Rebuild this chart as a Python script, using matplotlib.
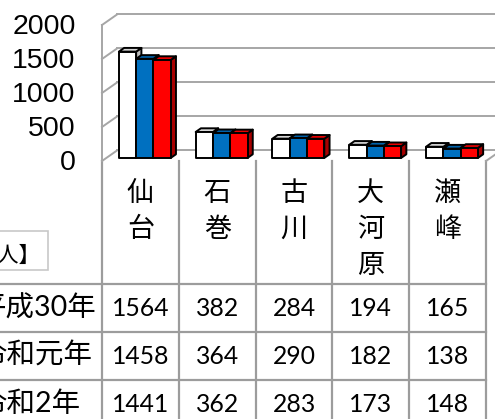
import matplotlib
matplotlib.use('Agg')
import matplotlib.pyplot as plt
from matplotlib.patches import Polygon, Rectangle

# ---------------- data ----------------
categories = ['仙台', '石巻', '古川', '大河原', '瀬峰']
series_names = ['平成30年', '令和元年', '令和2年']
h30 = [1564, 382, 284, 194, 165]
r1 = [1458, 364, 290, 182, 138]
r2 = [1441, 362, 283, 173, 148]
y_ticks = [0, 500, 1000, 1500, 2000]
unit_label = '【単位：人】'

series = [h30, r1, r2]
face_cols = [('#FFFFFF', '#D6D6D6', '#BDBDBD'),
             ('#0070C0', '#0062AA', '#004E8A'),
             ('#FF0000', '#E80000', '#A80000')]

W, H = 495, 419
fig = plt.figure(figsize=(W / 100, H / 100), dpi=100)

# pixel overlay axes for table / labels
pa = fig.add_axes([0, 0, 1, 1])
pa.set_xlim(0, W)
pa.set_ylim(H, 0)
pa.axis('off')

# chart axes (front plane)
x0, x1 = 102, 486
yb, yt = 161, 25
ncat = len(categories)
ymax = 2000
ax = fig.add_axes([x0 / W, (H - yb) / H, (x1 - x0) / W, (yb - yt) / H])
ax.set_xlim(0, ncat)
ax.set_ylim(0, ymax)
ax.axis('off')

catw = (x1 - x0) / ncat
DX = 15 / catw                 # depth offset in category units
DY = 10.5 * ymax / (yb - yt)   # depth offset in value units

grid_c = '#A6A6A6'
# back wall gridlines and side wall diagonals
for v in y_ticks:
    ax.plot([DX, ncat + DX + 1], [v + DY, v + DY], color=grid_c, lw=1.4,
            clip_on=False, zorder=1)
    ax.plot([0, DX], [v, v + DY], color=grid_c, lw=1.4, clip_on=False, zorder=1)
ax.plot([0, 0], [0, ymax], color=grid_c, lw=1.4, clip_on=False, zorder=1)
ax.plot([ncat, ncat + DX], [0, DY], color=grid_c, lw=1.4, clip_on=False, zorder=1)

# bars
f0, f1 = 0.29, 0.64
off = 0.163
bw = 0.225
z = 3
for i in range(ncat):
    for j, s in enumerate(series):
        v = s[i]
        fc, tc, sc = face_cols[j]
        xl = i + off + j * bw + f0 * DX
        yl = f0 * DY
        ddx = (f1 - f0) * DX
        ddy = (f1 - f0) * DY
        front = [(xl, yl), (xl + bw, yl), (xl + bw, yl + v), (xl, yl + v)]
        top = [(xl, yl + v), (xl + bw, yl + v), (xl + bw + ddx, yl + v + ddy),
               (xl + ddx, yl + v + ddy)]
        side = [(xl + bw, yl), (xl + bw + ddx, yl + ddy),
                (xl + bw + ddx, yl + v + ddy), (xl + bw, yl + v)]
        for poly, col in ((side, sc), (top, tc), (front, fc)):
            ax.add_patch(Polygon(poly, closed=True, facecolor=col,
                                 edgecolor='black', lw=1.4, joinstyle='round',
                                 clip_on=False, zorder=z))
        z += 1

# y tick labels
for v in y_ticks:
    ypx = yb - v * (yb - yt) / ymax + 2
    pa.text(75.5, ypx, str(v), ha='right', va='center', fontsize=20.5,
            family='Liberation Sans', color='black')

# table
tab_c = '#9C9C9C'
row_y = [284, 332, 380, 428]
pa.plot([x0, x0], [yb, H], color=tab_c, lw=1.6)
for i in range(1, ncat + 1):
    pa.plot([x0 + i * catw, x0 + i * catw], [yb, H], color=tab_c, lw=1.6)
for ry in row_y[:3]:
    pa.plot([0, x1], [ry, ry], color=tab_c, lw=1.6)

jp = ['Noto Sans CJK JP', 'DejaVu Sans']
mixed = ['Lato', 'Noto Sans CJK JP', 'DejaVu Sans']
for i, c in enumerate(categories):
    cx = x0 + (i + 0.5) * catw
    for k, ch in enumerate(c):
        pa.text(cx, 193 + 36 * k, ch, ha='center', va='center', fontsize=19.5,
                family=jp, color='black')

for r, (name, s) in enumerate(zip(series_names, series)):
    cy = (row_y[r] + row_y[r + 1]) / 2
    pa.text(-22, cy, name, ha='left', va='center', fontsize=20.5, family=mixed,
            color='black')
    for i, v in enumerate(s):
        cx = x0 + (i + 0.5) * catw
        pa.text(cx, cy, str(v), ha='center', va='center', fontsize=17.8,
                family=mixed, color='black')

# unit label box
pa.add_patch(Rectangle((-60, 231), 108, 39, facecolor='white',
                       edgecolor='#C8C8C8', lw=1.2))
pa.text(41, 256, unit_label, ha='right', va='center', fontsize=15.5, family=jp,
        color='black')

fig.savefig('out.png', dpi=100)
